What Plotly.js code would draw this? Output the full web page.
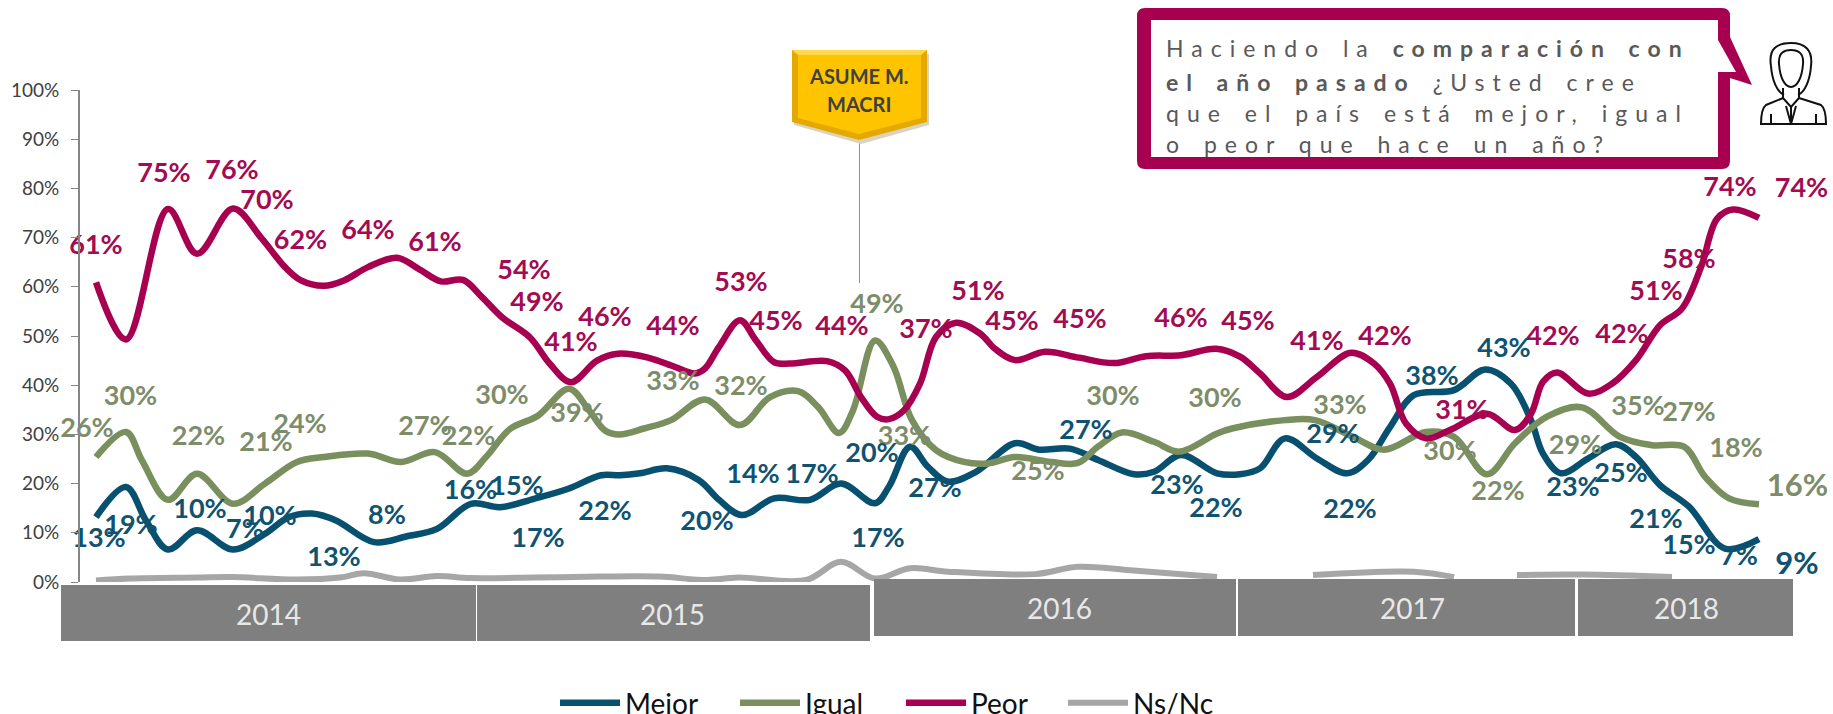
<!DOCTYPE html>
<html><head><meta charset="utf-8">
<script src="https://cdn.plot.ly/plotly-3.0.1.min.js"></script>
<style>
html,body{margin:0;padding:0;background:#fff;overflow:hidden;width:1833px;height:714px}
#c{width:1833px;height:760px}
.annotation[data-index="0"] text,.annotation[data-index="1"] text,.annotation[data-index="2"] text,.annotation[data-index="3"] text{letter-spacing:8px;word-spacing:3px}
</style></head><body><div id="c"></div>
<script>
// time position along the chart's horizontal scale
const peorT=[9.6,12.6,16.8,19.7,23.3,26.1,28.5,30.1,32.4,34.4,36.8,39.7,41.9,44.1,46.3,48.2,50.2,53,55,57.1,59.7,61.8,64.8,67.5,69.5,70.5,71.9,74,75.6,77.4,79,82.7,84.5,86.1,87.7,88.9,90.4,92,93.6,95.6,98,99.5,101.5,104.5,107.9,111.4,114.6,118.1,121.6,124,126,128.7,131.7,135.1,137.4,139,140.6,142.6,145,148.7,151.5,153.1,154.3,155.7,158.8,161.2,163.6,166,168.2,170.1,171.7,173.3,175.9];
const peor=[60.9,49.3,75.8,66.7,75.9,70,64,61.3,60.2,61.3,64,65.9,63.6,61.1,61.4,57.9,53.8,49.7,44.3,40.6,45,46.4,45.6,43.7,42.4,43.4,47.8,53.2,49.1,44.7,44.4,44.9,43,37.6,33.6,33.1,34.9,40.3,49.8,52.7,50.5,47.4,45.1,46.8,45.6,44.5,45.9,46.1,47.4,45.8,42.4,37.6,41.7,46.6,44.4,40.3,32.2,29.2,30.9,34.2,30.9,34.2,40.7,42.6,38.3,40.3,45.1,52.2,55.6,64,73.8,75.7,74];

const mejorT=[9.6,12.6,14.6,16.8,19.7,23.3,26.5,28.9,31.2,33.6,37.4,40.7,43.7,47.1,50,53.4,56.9,60.1,62,64,66.7,69.9,71.9,74.2,77.4,81,84.1,87.5,88.9,91,92.8,94.8,97.6,101.5,103.9,107,109.8,113.4,115.4,118.1,121.7,124,126,128.5,131.7,134.7,136.8,139,141.4,145.4,148.5,151.1,153.1,154.3,156.1,158.8,161.6,163.6,166,168.9,172.5,175.9];
const mejor=[13.2,19.3,12.5,6.6,10.5,6.6,9.8,13.2,13.9,12.5,8.1,9.3,10.8,15.9,15.2,16.9,19,21.7,21.7,22.1,23.1,20.7,16.7,13.6,17,16.7,20,16,19.4,27.5,23.4,20.4,22.4,28.2,26.9,27.1,24.8,21.9,22.4,25.8,22.1,21.9,23.1,29.2,25.1,22.1,24.8,31.5,38,39,43.2,40.3,32.9,26.1,22.1,25.1,28,25.4,19.7,15.3,6.8,8.7];

const igualT=[9.6,12.6,14.2,16.8,19.7,23.3,26.5,29.7,32.4,36.8,40.1,43.5,46.7,48.6,51,53.8,56.9,58.9,60.5,61.9,64.4,67.1,70.5,74,77,79.8,81.8,83.9,85.3,87.5,89.3,91.2,93.6,96.4,98.8,101.5,105.1,107.8,109.8,112.2,115.4,117.9,121.7,123.2,128.5,131.5,135.3,138.4,142.6,145.4,148.7,151.5,154.7,158.2,162,165.2,168.4,170.5,172.9,175.9];
const igual=[25.4,30.5,24.7,16.7,22,15.9,20,24.4,25.4,26.1,24.4,26.4,22,25.4,31.1,33.8,39.3,34.9,30.8,30,31.2,32.9,37.1,31.9,37.6,38.8,35.6,30.3,34.9,49.1,44,32.9,26.8,24.4,24.1,25.4,24.4,24.2,27.5,30.4,28.5,26.5,30.2,31.2,32.9,32.9,29.5,26.9,30.5,29.5,21.9,28.2,33.6,35.5,29.5,27.8,27.5,21.4,17,15.8];

const nsncT=[9.6,13,19.7,23.3,29.6,34,36.4,40,43.7,47,53.4,60,65.9,70.7,73.8,80.6,84.1,87.5,91,94.8,103.5,107.8,113,121.7,null,131.3,141.4,145.4,null,151.7,158.3,167.2];
const nsnc=[0.3,0.7,0.9,1,0.5,0.9,1.8,0.5,1.2,0.8,0.9,1.1,1.1,0.4,0.9,0.4,4.1,0.7,2.8,2.1,1.6,3.1,2.4,1,null,1.4,2.1,1,null,1.4,1.5,1];

// data labels: text and where each one sits on the chart's scales
const peorLabels=['61%','75%','76%','70%','62%','64%','61%','54%','49%','41%','46%','44%','53%','45%','44%','37%','51%','45%','45%','46%','45%','41%','42%','31%','42%','42%','51%','58%','74%','74%'];
const peorLabelT=[9.6,16.4,23.2,26.7,30.05,36.8,43.5,52.4,53.7,57.1,60.5,67.3,74.1,77.6,84.2,92.6,97.8,101.2,108,118.1,124.8,131.7,138.5,146.2,155.3,162.2,165.6,168.9,173,180.15];
const peorLabelV=[68,82.6,83.2,77.2,69,71,68.6,62.9,56.5,48.3,53.5,51.5,60.6,52.5,51.5,51,58.6,52.5,53,53.3,52.5,48.6,49.6,34.6,49.6,49.9,58.6,65.2,79.9,79.7];

const igualLabels=['26%','30%','22%','21%','24%','27%','22%','30%','39%','33%','32%','49%','33%','25%','30%','30%','33%','30%','22%','29%','35%','27%','18%','16%'];
const igualLabelT=[8.7,13.05,19.85,26.6,30,42.5,46.86,50.2,57.7,67.3,74.1,87.7,90.45,103.8,111.3,121.5,134,145,149.8,157.55,163.8,168.9,173.6,179.75];
const igualLabelV=[30.9,37.4,29.3,28,31.7,31.3,29.3,37.6,33.8,40.3,39.3,56.1,29.2,22.1,37.3,37,35.5,26.1,18.1,27.3,35.3,34.1,26.7,19];

const mejorLabels=['13%','19%','10%','7%','10%','13%','8%','16%','15%','17%','22%','20%','14%','17%','20%','17%','27%','27%','23%','22%','29%','22%','38%','43%','23%','25%','21%','15%','7%','9%'];
const mejorLabelT=[9.9,13.1,20,24.5,27,33.4,38.7,47.05,51.7,53.8,60.5,70.7,75.3,81.2,87.2,87.8,93.5,108.6,117.7,121.6,133.3,135,143.2,150.4,157.3,162.1,165.6,168.9,173.9,179.7];
const mejorLabelV=[8.5,11.2,14.4,10.4,12.9,4.7,13.1,18.3,19,8.5,13.9,11.9,21.4,21.5,25.8,8.5,18.7,30.5,19.2,14.5,29.6,14.3,41.4,47.1,18.8,21.7,12.4,7,4.8,3.2];

const years=['2014','2015','2016','2017','2018'];
const tickValues=[0,10,20,30,40,50,60,70,80,90,100];
const tickLabels=['0%','10%','20%','30%','40%','50%','60%','70%','80%','90%','100%'];
const callout=['Haciendo la <b>comparación con</b>','<b>el año pasado</b> ¿Usted cree','que el país está mejor, igual','o peor que hace un año?'];
const badge=['ASUME M.','MACRI'];

const W=1833,H=760,FONT='Lato, "Open Sans", sans-serif';
const BLUE='#08506F',GREEN='#7A8F5E',RED='#A80050',GREY='#A6A6A6';
const px=x=>x/W, py=y=>1-y/H;
const svg=s=>s.replace(/(-?[\d.]+),(-?[\d.]+)/g,(m,a,b)=>px(+a)+','+py(+b));
const line=(name,x,y,color,w,leg)=>({type:'scatter',mode:'lines',name,x,y,legend:leg,
  line:{color,width:w,shape:'spline',smoothing:1,simplify:false},hoverinfo:'skip',connectgaps:false});
const labels=(t,x,y,color,sizes)=>({type:'scatter',mode:'text',x,y,text:t,showlegend:false,hoverinfo:'skip',cliponaxis:false,
  textposition:'middle center',textfont:{family:FONT,size:sizes||27,color,weight:700}});

const data=[
 line('Mejor',mejorT,mejor,BLUE,6.5,'legend'),
 line('Igual',igualT,igual,GREEN,6.5,'legend2'),
 line('Peor',peorT,peor,RED,6.5,'legend3'),
 line('Ns/Nc',nsncT,nsnc,GREY,6,'legend4'),
 labels(peorLabels,peorLabelT,peorLabelV,'#A30B52'),
 labels(igualLabels,igualLabelT,igualLabelV,'#7D8D6A',igualLabels.map((s,i)=>i==igualLabels.length-1?31:27)),
 labels(mejorLabels,mejorLabelT,mejorLabelV,'#0F5371',mejorLabels.map((s,i)=>i==mejorLabels.length-1?31:27))
];

const boxX=[[61,476],[477,870],[874,1236],[1238,1575],[1578,1793]];
const boxY=[[585,641],[585,641],[579,636],[579,636],[579,636]];
const yearPos=[[268,614],[672,614],[1059,608],[1412,608],[1686,608]];
const shapes=[];
const P=(path,fill,lc,lw)=>shapes.push({type:'path',xref:'paper',yref:'paper',path:svg(path),fillcolor:fill||'rgba(0,0,0,0)',line:{color:lc||'rgba(0,0,0,0)',width:lw||0},layer:'above'});
boxX.forEach((b,i)=>P(`M${b[0]},${boxY[i][0]} L${b[1]},${boxY[i][0]} L${b[1]},${boxY[i][1]} L${b[0]},${boxY[i][1]} Z`,'#7F7F7F'));
// callout
P('M1145,8 L1722,8 Q1730,8 1730,16 L1730,37 L1752,85 L1730,78 L1730,161 Q1730,169 1722,169 L1145,169 Q1137,169 1137,161 L1137,16 Q1137,8 1145,8 Z',RED);
P('M1151,20 L1718,20 L1718,40 L1736,72 L1718,72 L1718,157 L1151,157 Z','#FFFFFF');
// person icon
P('M1771,66 C1768,48 1778,43 1791,43 C1805,43 1813,50 1811,66 C1810,80 1805,92 1798,95 M1771,66 C1772,80 1777,92 1784,95','rgba(0,0,0,0)','#111',2);
P('M1779,64 C1778,52 1785,50 1791,50 C1798,50 1804,53 1803,64 C1802,78 1797,87 1791,87 C1785,87 1780,78 1779,64 Z','#fff','#111',2);
P('M1783,88 L1783,98 L1766,105 C1762,108 1761,114 1761,124 L1826,124 C1826,114 1825,108 1821,105 L1799,98 L1799,88 M1783,98 L1791,107 L1799,98 M1791,107 L1791,124 M1786,106 L1791,124 M1796,106 L1791,124 M1771,114 L1771,124 M1816,114 L1816,124','rgba(0,0,0,0)','#111',2);
// badge
P('M859.5,283 L859.5,140','rgba(0,0,0,0)','#6F97BC',1);
P('M794,54 L929,54 L929,125 L861,144 L794,125 Z','#D9D4C0');
P('M792,50 L927,50 L927,122 L859,140 L792,122 Z','#E5A800');
P('M792,50 L927,50 L921,55 L798,55 Z','#FFD84D');
P('M798,55 L921,55 L921,118 L859,134 L798,118 Z','#FFC400');

const ann=(text,x,y,color,size,anchor,extra)=>Object.assign({xref:'paper',yref:'paper',x:px(x),y:py(y),text,showarrow:false,
  xanchor:anchor||'center',yanchor:'middle',font:{family:FONT,size,color}},extra||{});
const annotations=[];
[48,82,113,144].forEach((y,i)=>annotations.push(ann(callout[i],1164,y,'#595959',23,'left',{align:'left'})));
years.forEach((t,i)=>annotations.push(ann(t,yearPos[i][0],yearPos[i][1],'#E8E8E8',28)));
annotations.push(ann('<b>'+badge[0]+'</b>',859,76,'#404040',20));
annotations.push(ann('<b>'+badge[1]+'</b>',859,104,'#404040',20));

const legendAt=x=>({x:px(x),y:py(703),xanchor:'left',yanchor:'middle',orientation:'h',bgcolor:'rgba(0,0,0,0)',
  itemwidth:60,itemclick:false,itemdoubleclick:false,font:{family:FONT,size:28,color:'#111'}});

const layout={width:W,height:H,margin:{l:0,r:0,t:0,b:0,pad:0,autoexpand:false},paper_bgcolor:'#fff',plot_bgcolor:'rgba(0,0,0,0)',showlegend:true,
 xaxis:{range:[0,183.3],domain:[0,1],visible:false,fixedrange:true},
 yaxis:{range:[0,100],domain:[py(582),py(90)],anchor:'free',position:79/W,tickmode:'array',tickvals:tickValues,ticktext:tickLabels,
   showgrid:false,zeroline:false,showline:true,linecolor:'#868686',linewidth:2,ticks:'outside',ticklen:7,tickcolor:'#868686',tickwidth:1,ticklabelstandoff:8,
   tickfont:{family:FONT,size:19,color:'#404040'},fixedrange:true},
 legend:legendAt(555),legend2:legendAt(735),legend3:legendAt(901),legend4:legendAt(1063),
 shapes,annotations};
Plotly.newPlot('c',data,layout,{displayModeBar:false,staticPlot:true});
</script></body></html>
